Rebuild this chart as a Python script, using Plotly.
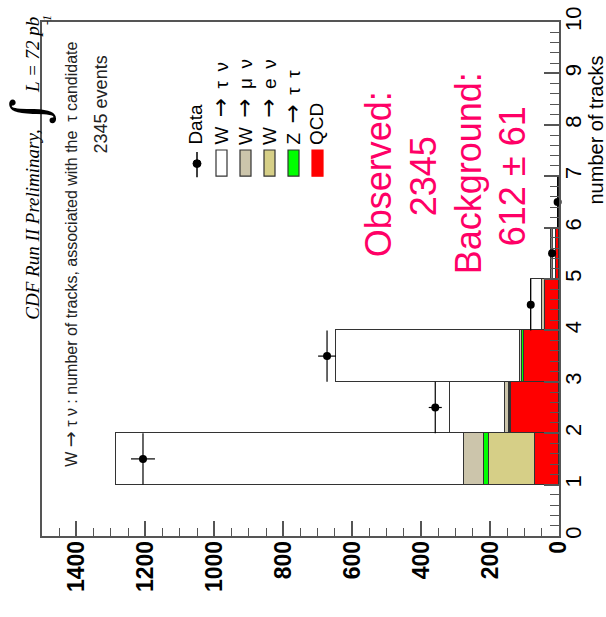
import numpy as np
import plotly.graph_objects as go

# ---------------- data ----------------
bin_centers = [1.5, 2.5, 3.5, 4.5, 5.5, 6.5]          # number of tracks bins
qcd      = [71, 138, 102, 41, 8, 0]
w_enu    = [132, 4, 1, 0, 0, 0]
z_tautau = [15, 3, 4, 0, 0, 0]
w_munu   = [59, 13, 5, 9, 2, 0]
w_taunu  = [1007, 158, 536, 31, 12, 0]
data     = [1207, 359, 673, 82, 20, 4]

count_ticks = [0, 200, 400, 600, 800, 1000, 1200, 1400]
track_ticks = [0, 1, 2, 3, 4, 5, 6, 7, 8, 9, 10]


def arrow(size):
    return f'<span style="font-family:DejaVu Sans;font-size:{size}px">→</span>'


SP = "\u2002"
A = arrow(23)
legend_labels = ["Data", f"W{SP}{A}{SP}τ{SP}ν", f"W{SP}{A}{SP}μ{SP}ν", f"W{SP}{A}{SP}e{SP}ν",
                 f"Z{SP}{A}{SP}τ{SP}τ", "QCD"]
summary_lines = ["Observed:", "2345", "Background:", "612 ± 61"]
title_text = f"W {arrow(19)} τ ν : number of tracks, associated with the  τ candidate"

# ---------------- styles ----------------
C_QCD, C_Z, C_EN, C_MN, C_TN = "#ff0000", "#00ff00", "#d6cf87", "#ccc5ab", "#ffffff"
EDGE = "#333333"
PINK = "#ff0066"
AX = "#555555"

W, H = 606, 617
L, R, T, B = 42, 47, 6, 81
PW, PH = W - L - R, H - T - B


def px(xp):
    return (xp - L) / PW


def py(yp):
    return (H - B - yp) / PH


fig = go.Figure()
stack = [(qcd, C_QCD), (w_enu, C_EN), (z_tautau, C_Z), (w_munu, C_MN), (w_taunu, C_TN)]
for vals, col in stack:
    fig.add_trace(go.Bar(x=vals, y=bin_centers, orientation="h", width=1,
                         marker=dict(color=col, line=dict(color=EDGE, width=1)),
                         showlegend=False))

fig.add_trace(go.Scatter(
    x=data, y=bin_centers, mode="markers",
    marker=dict(color="black", size=8),
    error_x=dict(type="data", array=list(np.sqrt(data)), color="black", thickness=1.2, width=0),
    error_y=dict(type="constant", value=0.5, color="black", thickness=1.2, width=0),
    cliponaxis=False, showlegend=False))

annotations = []
shapes = []

# header texts
annotations.append(dict(text="CDF Run II Preliminary,", x=px(33), y=py(215), textangle=-90,
                        font=dict(family="Liberation Serif", size=19, color="black", style="italic")))
annotations.append(dict(text="∫", x=px(30), y=py(98), textangle=-90,
                        font=dict(family="DejaVu Serif", size=50, color="black")))
annotations.append(dict(text="L = 72 pb", x=px(33), y=py(40), textangle=-90,
                        font=dict(family="Liberation Serif", size=19, color="black", style="italic")))
annotations.append(dict(text="-1", x=px(47), y=py(4), textangle=-90,
                        font=dict(family="Liberation Serif", size=12, color="black", style="italic")))
annotations.append(dict(text=title_text, x=px(70), y=py(246), textangle=-90,
                        font=dict(family="Liberation Sans", size=16, color="#222222")))
annotations.append(dict(text="2345 events", x=px(101), y=py(91), textangle=-90,
                        font=dict(family="Liberation Sans", size=18, color="#222222")))

# legend
leg_x = [196, 220, 244, 268, 292, 316]
box_cols = [None, C_TN, C_MN, C_EN, C_Z, C_QCD]
for i, lab in enumerate(legend_labels):
    annotations.append(dict(text=lab, x=px(leg_x[i]), y=py(135), yanchor="bottom", textangle=-90,
                            font=dict(family="Liberation Sans", size=19, color="black")))
    if i == 0:
        shapes.append(dict(type="line", xref="paper", yref="paper",
                           x0=px(197), x1=px(197), y0=py(140), y1=py(166),
                           line=dict(color="black", width=1.5)))
        shapes.append(dict(type="circle", xref="paper", yref="paper",
                           x0=px(193), x1=px(201), y0=py(148), y1=py(156),
                           fillcolor="black", line=dict(color="black", width=1)))
    else:
        c = leg_x[i] + 1.5
        lc = EDGE if i != 5 else C_QCD
        shapes.append(dict(type="rect", xref="paper", yref="paper",
                           x0=px(c - 5.5), x1=px(c + 5.5), y0=py(138), y1=py(165),
                           fillcolor=box_cols[i], line=dict(color=lc, width=1.2)))

# summary block
sum_x = [378, 423, 468, 512]
sum_y = [163, 165, 162, 165]
for t, xx, yy in zip(summary_lines, sum_x, sum_y):
    annotations.append(dict(text=t, x=px(xx), y=py(yy), textangle=-90,
                            font=dict(family="Liberation Sans", size=36, color=PINK)))

# axis title for number of tracks
annotations.append(dict(text="number of tracks", x=px(596), y=py(39), yanchor="top", textangle=-90,
                        font=dict(family="Liberation Sans", size=20, color="black")))

for a in annotations:
    a.update(xref="paper", yref="paper", showarrow=False)
    a.setdefault("xanchor", "center")
    a.setdefault("yanchor", "middle")

fig.update_layout(
    width=W, height=H, margin=dict(l=L, r=R, t=T, b=B),
    paper_bgcolor="white", plot_bgcolor="white",
    barmode="stack", bargap=0, showlegend=False,
    annotations=annotations, shapes=shapes,
    xaxis=dict(range=[1500, 0], tickvals=count_ticks, ticks="inside", ticklen=15, tickwidth=1.5,
               tickcolor=AX,
               minor=dict(dtick=50, ticks="inside", ticklen=8, tickcolor=AX, tickwidth=1.2),
               tickangle=-90, ticklabelstandoff=-6, ticklabeloverflow="allow",
               tickfont=dict(family="Liberation Sans", size=23, color="black", weight="bold"),
               showline=True, mirror=True, linecolor=AX, linewidth=1.5,
               showgrid=False, zeroline=False),
    yaxis=dict(range=[0, 10], side="right", tickvals=track_ticks, ticks="inside", ticklen=15,
               tickwidth=1.5, tickcolor=AX,
               minor=dict(dtick=0.2, ticks="inside", ticklen=9, tickcolor=AX, tickwidth=1.2),
               tickangle=-90, ticklabelstandoff=-6, ticklabeloverflow="allow",
               tickfont=dict(family="Liberation Sans", size=22, color="black"),
               showline=True, mirror=True, linecolor=AX, linewidth=1.5,
               showgrid=False, zeroline=False),
)

fig.write_html("out.html", config={"displayModeBar": False},
               post_script="document.body.style.margin='0';")
